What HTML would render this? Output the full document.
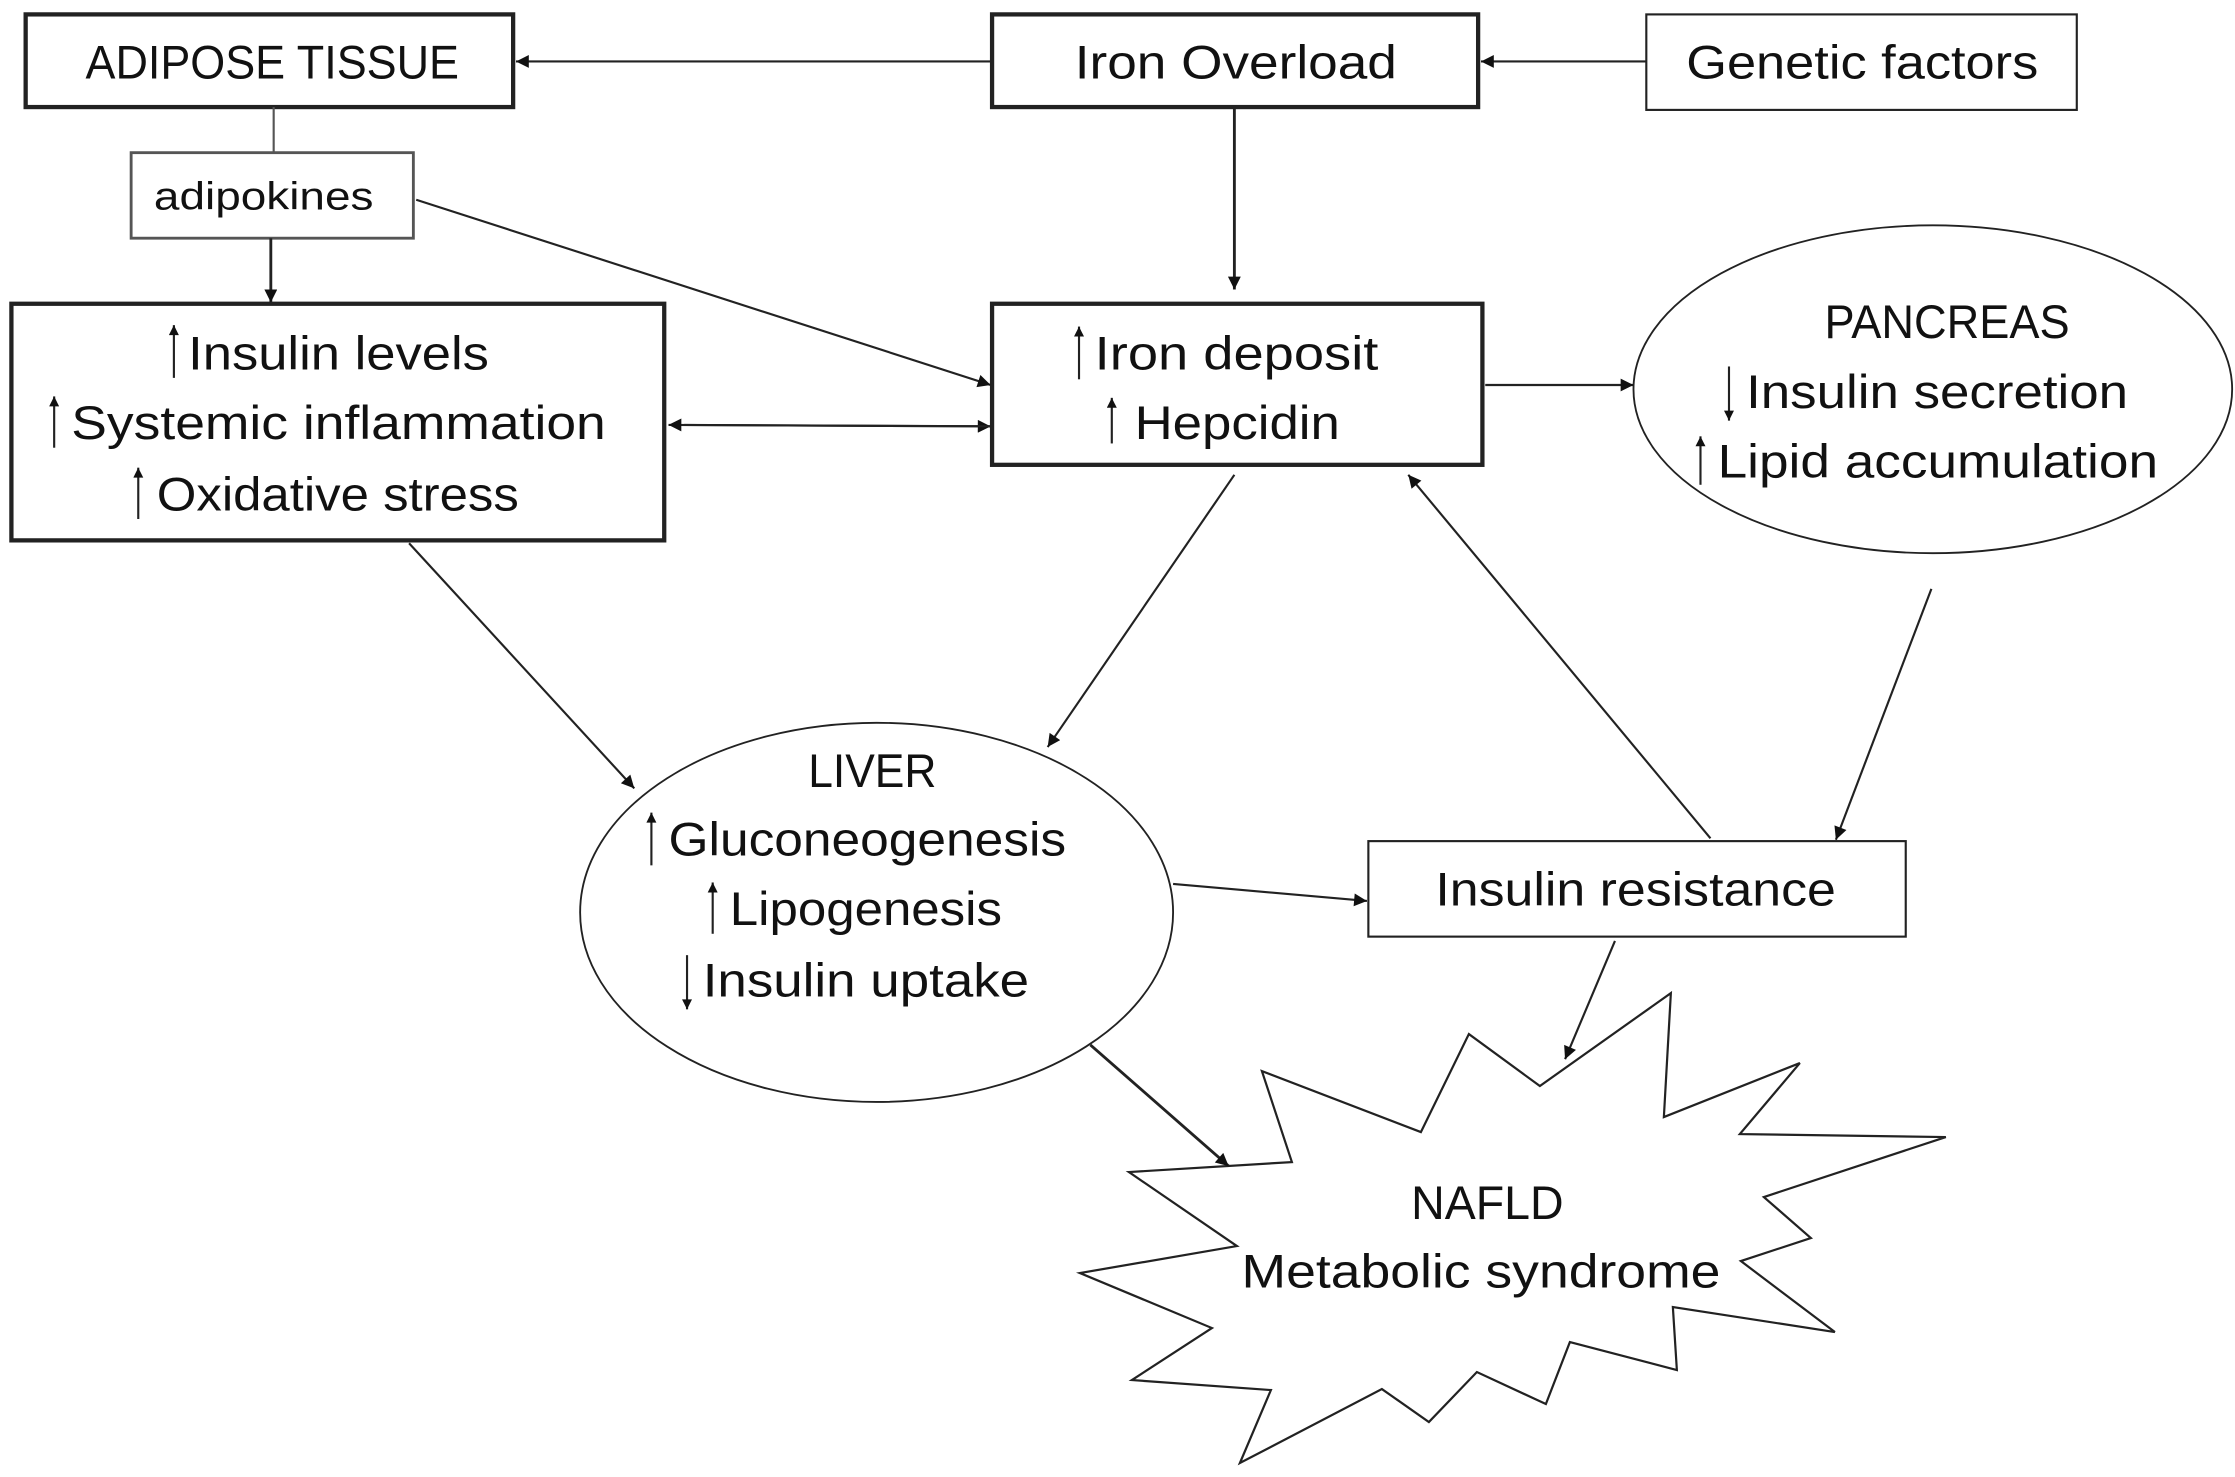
<!DOCTYPE html>
<html><head><meta charset="utf-8"><style>
html,body{margin:0;padding:0;background:#fff}
svg{display:block}
text{font-family:"Liberation Sans Narrow","Liberation Sans",sans-serif;fill:#111}
</style></head><body>
<svg width="2235" height="1477" viewBox="0 0 1568 1036" xmlns="http://www.w3.org/2000/svg">
<defs>
<marker id="a" viewBox="0 0 10 10" refX="10" refY="5" markerWidth="10" markerHeight="9" markerUnits="userSpaceOnUse" orient="auto"><path d="M0,0L10,5L0,10z" fill="#111"/></marker>
<marker id="s" viewBox="0 0 10 10" refX="10" refY="5" markerWidth="8" markerHeight="7" markerUnits="userSpaceOnUse" orient="auto"><path d="M0,0L10,5L0,10z" fill="#111"/></marker>
</defs>
<g fill="none" stroke="#222">
<rect x="18" y="10" width="342" height="65" stroke-width="3"/>
<rect x="696" y="10" width="341" height="65" stroke-width="3"/>
<rect x="1155" y="10" width="302" height="67" stroke-width="1.5"/>
<rect x="92" y="107" width="198" height="60" stroke-width="2" stroke="#555"/>
<rect x="8" y="213" width="458" height="166" stroke-width="3"/>
<rect x="696" y="213" width="344" height="113" stroke-width="3"/>
<ellipse cx="1356" cy="273" rx="210" ry="115" stroke-width="1.3"/>
<rect x="960" y="590" width="377" height="67" stroke-width="1.5"/>
<ellipse cx="615" cy="640" rx="208" ry="133" stroke-width="1.3"/>
<g transform="scale(0.70151)" stroke-width="2.2">
<polygon points="1129,1172 1292,1162 1262,1071 1421,1132 1469,1034 1540,1086 1671,993 1664,1117 1800,1063 1740,1134 1946,1137 1764,1197 1811,1238 1741,1261 1835,1332 1673,1307 1677,1370 1570,1342 1546,1404 1477,1372 1429,1422 1382,1389 1240,1463 1271,1390 1132,1380 1212,1328 1080,1273 1237,1246"/>
</g>
<g stroke-width="1.5" stroke="#222">
<line x1="696" y1="43" x2="362" y2="43" marker-end="url(#a)"/>
<line x1="1155" y1="43" x2="1039" y2="43" marker-end="url(#a)"/>
<line x1="192" y1="75" x2="192" y2="107" stroke="#555"/>
<line x1="190" y1="167" x2="190" y2="212" stroke-width="2" marker-end="url(#a)"/>
<line x1="866" y1="75" x2="866" y2="203" stroke-width="2" marker-end="url(#a)"/>
<line x1="292" y1="140" x2="695" y2="270" marker-end="url(#a)"/>
<line x1="480" y1="298" x2="695" y2="299" marker-end="url(#a)"/>
<line x1="695" y1="299" x2="469" y2="298" marker-end="url(#a)"/>
<line x1="1042" y1="270" x2="1146" y2="270" marker-end="url(#a)"/>
<line x1="1355" y1="413" x2="1288" y2="589" marker-end="url(#a)"/>
<line x1="1200" y1="588" x2="988" y2="333" marker-end="url(#a)"/>
<line x1="866" y1="333" x2="735" y2="524" marker-end="url(#a)"/>
<line x1="287" y1="381" x2="445" y2="553" marker-end="url(#a)"/>
<line x1="823" y1="620" x2="959" y2="632" marker-end="url(#a)"/>
<line x1="1133" y1="660" x2="1098" y2="743" marker-end="url(#a)"/>
<line x1="765" y1="733" x2="862" y2="818" stroke-width="2" marker-end="url(#a)"/>
</g>
<g stroke-width="1.5">
<line x1="122" y1="265" x2="122" y2="228" marker-end="url(#s)"/>
<line x1="38" y1="314" x2="38" y2="278" marker-end="url(#s)"/>
<line x1="97" y1="364" x2="97" y2="328" marker-end="url(#s)"/>
<line x1="757" y1="266" x2="757" y2="229" marker-end="url(#s)"/>
<line x1="780" y1="311" x2="780" y2="279" marker-end="url(#s)"/>
<line x1="1213" y1="257" x2="1213" y2="295" marker-end="url(#s)"/>
<line x1="1193" y1="340" x2="1193" y2="306" marker-end="url(#s)"/>
<line x1="457" y1="607" x2="457" y2="570" marker-end="url(#s)"/>
<line x1="500" y1="655" x2="500" y2="619" marker-end="url(#s)"/>
<line x1="482" y1="670" x2="482" y2="708" marker-end="url(#s)"/>
</g>
</g>
<g font-size="33">
<text x="60" y="55" textLength="262" lengthAdjust="spacingAndGlyphs">ADIPOSE TISSUE</text>
<text x="754" y="55" textLength="226" lengthAdjust="spacingAndGlyphs">Iron Overload</text>
<text x="1183" y="55" textLength="247" lengthAdjust="spacingAndGlyphs">Genetic factors</text>
<text x="108" y="147" font-size="27" textLength="154" lengthAdjust="spacingAndGlyphs">adipokines</text>
<text x="132" y="259" textLength="211" lengthAdjust="spacingAndGlyphs">Insulin levels</text>
<text x="50" y="308" textLength="375" lengthAdjust="spacingAndGlyphs">Systemic inflammation</text>
<text x="110" y="358" textLength="254" lengthAdjust="spacingAndGlyphs">Oxidative stress</text>
<text x="768" y="259" textLength="199" lengthAdjust="spacingAndGlyphs">Iron deposit</text>
<text x="796" y="308" textLength="144" lengthAdjust="spacingAndGlyphs">Hepcidin</text>
<text x="1280" y="237" textLength="172" lengthAdjust="spacingAndGlyphs">PANCREAS</text>
<text x="1225" y="286" textLength="268" lengthAdjust="spacingAndGlyphs">Insulin secretion</text>
<text x="1205" y="335" textLength="309" lengthAdjust="spacingAndGlyphs">Lipid accumulation</text>
<text x="567" y="552" textLength="90" lengthAdjust="spacingAndGlyphs">LIVER</text>
<text x="469" y="600" textLength="279" lengthAdjust="spacingAndGlyphs">Gluconeogenesis</text>
<text x="512" y="649" textLength="191" lengthAdjust="spacingAndGlyphs">Lipogenesis</text>
<text x="493" y="699" textLength="229" lengthAdjust="spacingAndGlyphs">Insulin uptake</text>
<text x="1007" y="635" textLength="281" lengthAdjust="spacingAndGlyphs">Insulin resistance</text>
<text x="990" y="855" textLength="107" lengthAdjust="spacingAndGlyphs">NAFLD</text>
<text x="871" y="903" textLength="336" lengthAdjust="spacingAndGlyphs">Metabolic syndrome</text>
</g>
</svg>
</body></html>
